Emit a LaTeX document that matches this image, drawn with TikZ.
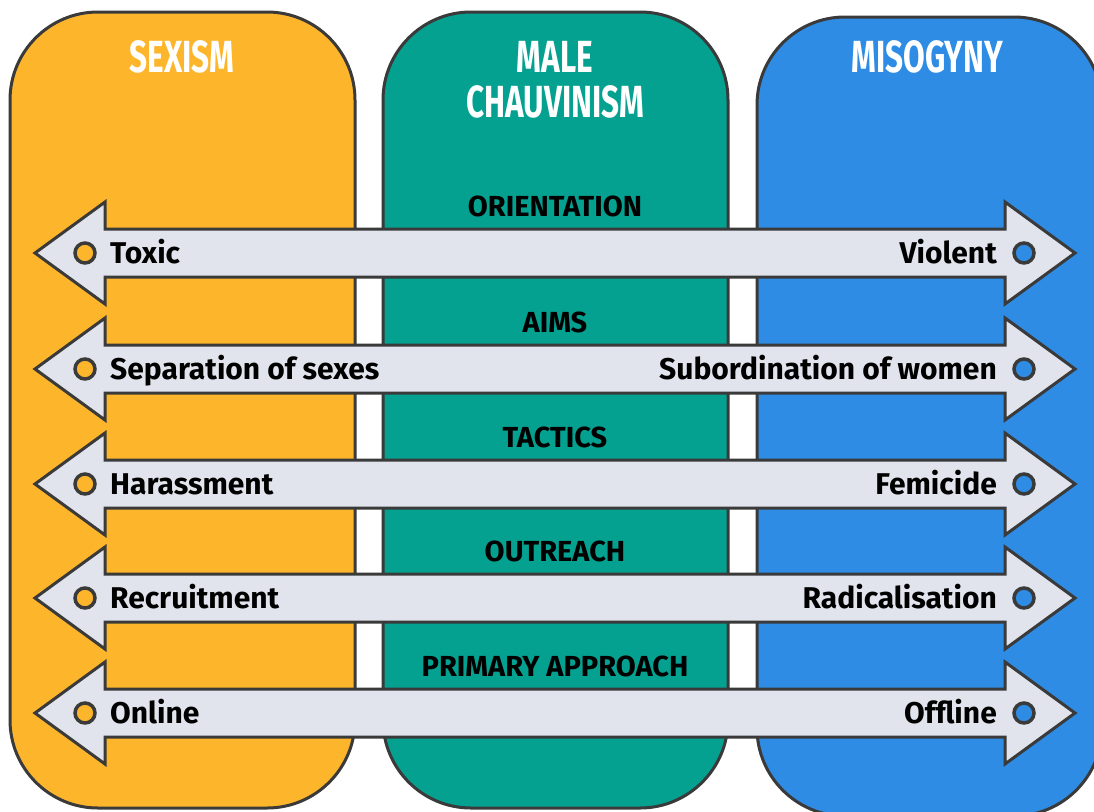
\documentclass[tikz,border=0pt]{standalone}
\usepackage{fontspec}
\setmainfont{Fira Sans}
\newfontfamily\headfont{Fira Sans}[FakeStretch=0.7]
\usepackage{tikz}
\usepackage{xcolor}
\usetikzlibrary{positioning}

\definecolor{sexcol}{HTML}{FDB62B}
\definecolor{malecol}{HTML}{04A191}
\definecolor{misocol}{HTML}{2E8CE4}
\definecolor{barcol}{HTML}{E1E4EC}
\definecolor{edgecol}{HTML}{3A3A3A}

\begin{document}
\begin{tikzpicture}[x=1pt, y=-1pt,
        column/.style={draw=edgecol, line width=3pt, rounded corners=88pt},
        bar/.style={draw=edgecol, fill=barcol, line width=3pt, line join=miter},
        head/.style={text=white, font=\headfont\bfseries\fontsize{45}{45}\selectfont, align=center},
        rowlabel/.style={font=\bfseries\fontsize{29}{29}\selectfont, anchor=base},
        item/.style={font=\bfseries\fontsize{30}{30}\selectfont},
        dot/.style={circle, draw=edgecol, line width=3.5pt, minimum size=20pt, inner sep=0pt}]
        \clip (0,0) rectangle (1094,811);
        \fill[white] (0,0) rectangle (1094,811);

        \draw[column, fill=sexcol] (10,12) rectangle (355,808);
        \draw[column, fill=malecol] (383,12) rectangle (728,808);
        \draw[column, fill=misocol] (757,17) rectangle (1102,816);

        \node[head] (sexism) at (182,57) {SEXISM};
        \node[head] (chauvinism) at (555,80) {MALE\\CHAUVINISM};
        \node[head] (misogyny) at (927,57) {MISOGYNY};

        \foreach \y/\cat/\lt/\rt [count=\i] in {
                253/ORIENTATION/Toxic/Violent,
                369/AIMS/Separation of sexes/Subordination of women,
                484/TACTICS/Harassment/Femicide,
                598/OUTREACH/Recruitment/Radicalisation,
                713/PRIMARY APPROACH/Online/Offline} {
            \node[rowlabel] (cat\i) at (555,\y-37) {\cat};
            \draw[bar] (35,\y) -- ++(70,-51) -- ++(0,27) -- ++(900,0) -- ++(0,-27)
                -- ++(70,51) -- ++(-70,51) -- ++(0,-27) -- ++(-900,0) -- ++(0,27) -- cycle;
            \node[dot, fill=sexcol] (ldot\i) at (85,\y) {};
            \node[dot, fill=misocol] (rdot\i) at (1024,\y) {};
            \node[item, anchor=base west, inner sep=0pt] (left\i) at (110,\y+10) {\lt};
            \node[item, anchor=base east, inner sep=0pt] (right\i) at (997,\y+10) {\rt};
        }
    \end{tikzpicture}
\end{document}
